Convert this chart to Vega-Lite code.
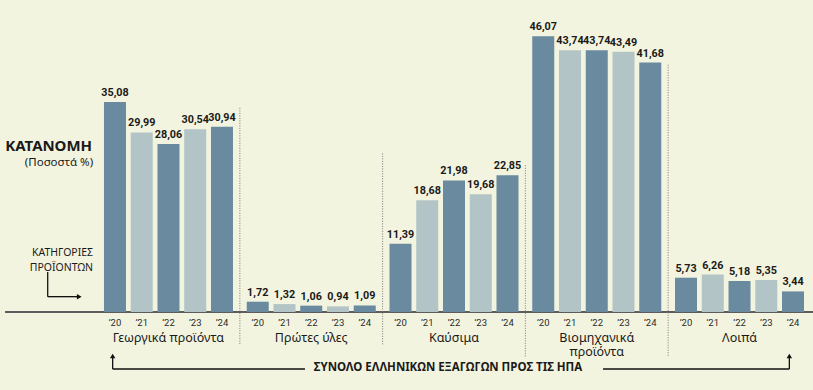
{
  "$schema": "https://vega.github.io/schema/vega-lite/v6.json",
  "width": 813,
  "height": 390,
  "autosize": "none",
  "padding": 0,
  "background": "#f3f4df",
  "config": {
    "view": {"stroke": null},
    "font": "Noto Sans",
    "locale": {"number": {"decimal": ",", "thousands": ".", "grouping": [3], "currency": ["", " €"]}}
  },
  "data": {
    "values": [
      {"cat": "Γεωργικά προϊόντα", "year": "’20", "value": 35.08},
      {"cat": "Γεωργικά προϊόντα", "year": "’21", "value": 29.99},
      {"cat": "Γεωργικά προϊόντα", "year": "’22", "value": 28.06},
      {"cat": "Γεωργικά προϊόντα", "year": "’23", "value": 30.54},
      {"cat": "Γεωργικά προϊόντα", "year": "’24", "value": 30.94},
      {"cat": "Πρώτες ύλες", "year": "’20", "value": 1.72},
      {"cat": "Πρώτες ύλες", "year": "’21", "value": 1.32},
      {"cat": "Πρώτες ύλες", "year": "’22", "value": 1.06},
      {"cat": "Πρώτες ύλες", "year": "’23", "value": 0.94},
      {"cat": "Πρώτες ύλες", "year": "’24", "value": 1.09},
      {"cat": "Καύσιμα", "year": "’20", "value": 11.39},
      {"cat": "Καύσιμα", "year": "’21", "value": 18.68},
      {"cat": "Καύσιμα", "year": "’22", "value": 21.98},
      {"cat": "Καύσιμα", "year": "’23", "value": 19.68},
      {"cat": "Καύσιμα", "year": "’24", "value": 22.85},
      {"cat": "Βιομηχανικά\nπροϊόντα", "year": "’20", "value": 46.07},
      {"cat": "Βιομηχανικά\nπροϊόντα", "year": "’21", "value": 43.74},
      {"cat": "Βιομηχανικά\nπροϊόντα", "year": "’22", "value": 43.74},
      {"cat": "Βιομηχανικά\nπροϊόντα", "year": "’23", "value": 43.49},
      {"cat": "Βιομηχανικά\nπροϊόντα", "year": "’24", "value": 41.68},
      {"cat": "Λοιπά", "year": "’20", "value": 5.73},
      {"cat": "Λοιπά", "year": "’21", "value": 6.26},
      {"cat": "Λοιπά", "year": "’22", "value": 5.18},
      {"cat": "Λοιπά", "year": "’23", "value": 5.35},
      {"cat": "Λοιπά", "year": "’24", "value": 3.44}
    ]
  },
  "layer": [
    {
      "mark": {"type": "rule", "color": "#5c5c5c", "strokeWidth": 2},
      "data": {"values": [{}]},
      "encoding": {
        "x": {"datum": "Γεωργικά προϊόντα", "type": "nominal", "bandPosition": -0.645,
          "scale": {"domain": ["Γεωργικά προϊόντα", "Πρώτες ύλες", "Καύσιμα", "Βιομηχανικά\nπροϊόντα", "Λοιπά"], "range": [97.1, 810.9], "paddingInner": 0, "paddingOuter": 0},
          "axis": null},
        "x2": {"datum": "Λοιπά", "bandPosition": 1.02},
        "y": {"datum": 0, "type": "quantitative", "scale": {"domain": [0, 50], "range": [312, 12.7], "nice": false, "zero": true}, "axis": null}
      }
    },
    {
      "mark": {"type": "bar"},
      "encoding": {
        "x": {"field": "cat", "type": "nominal", "sort": null},
        "xOffset": {"field": "year", "type": "nominal", "scale": {"paddingInner": 0.1776, "paddingOuter": 0.257}},
        "y": {"field": "value", "type": "quantitative"},
        "color": {"field": "year", "type": "nominal", "scale": {"domain": ["’20", "’21", "’22", "’23", "’24"], "range": ["#6a8aa0", "#b3c4c6", "#6a8aa0", "#b3c4c6", "#6a8aa0"]}, "legend": null}
      }
    },
    {
      "mark": {"type": "text", "baseline": "bottom", "dy": -4, "font": "Roboto", "fontSize": 10.8, "fontWeight": "bold", "color": "#1a1a1a"},
      "encoding": {
        "x": {"field": "cat", "type": "nominal"},
        "xOffset": {"field": "year", "type": "nominal"},
        "y": {"field": "value", "type": "quantitative"},
        "text": {"field": "value", "type": "quantitative", "format": ".2f"}
      }
    },
    {
      "mark": {"type": "text", "baseline": "middle", "font": "Roboto", "fontSize": 9.5, "color": "#2a2a2a"},
      "encoding": {
        "x": {"field": "cat", "type": "nominal"},
        "xOffset": {"field": "year", "type": "nominal"},
        "y": {"datum": -1.9},
        "text": {"field": "year", "type": "nominal"}
      }
    },
    {
      "transform": [{"filter": "datum.year === '’20'"}],
      "mark": {"type": "text", "baseline": "alphabetic", "lineBreak": "\n", "lineHeight": 14, "fontSize": 12.5, "color": "#1a1a1a"},
      "encoding": {
        "x": {"field": "cat", "type": "nominal"},
        "y": {"datum": -4.95},
        "text": {"field": "cat", "type": "nominal"}
      }
    },
    {
      "data": {"values": [{}]},
      "mark": {"type": "rule", "color": "#777777", "strokeWidth": 1, "strokeDash": [1, 1.5]},
      "encoding": {"x": {"datum": "Πρώτες ύλες", "type": "nominal", "bandPosition": 0}, "y": {"datum": 34.1}, "y2": {"datum": -5.4}}
    },
    {
      "data": {"values": [{}]},
      "mark": {"type": "rule", "color": "#777777", "strokeWidth": 1, "strokeDash": [1, 1.5]},
      "encoding": {"x": {"datum": "Καύσιμα", "type": "nominal", "bandPosition": 0}, "y": {"datum": 26.5}, "y2": {"datum": -5.4}}
    },
    {
      "data": {"values": [{}]},
      "mark": {"type": "rule", "color": "#777777", "strokeWidth": 1, "strokeDash": [1, 1.5]},
      "encoding": {"x": {"datum": "Βιομηχανικά\nπροϊόντα", "type": "nominal", "bandPosition": 0}, "y": {"datum": 24.5}, "y2": {"datum": -7.5}}
    },
    {
      "data": {"values": [{}]},
      "mark": {"type": "rule", "color": "#777777", "strokeWidth": 1, "strokeDash": [1, 1.5]},
      "encoding": {"x": {"datum": "Λοιπά", "type": "nominal", "bandPosition": 0}, "y": {"datum": 41.3}, "y2": {"datum": -7.5}}
    },
    {
      "data": {"values": [{}]},
      "mark": {"type": "text", "text": "ΚΑΤΑΝΟΜΗ", "align": "right", "baseline": "middle", "dx": -5, "fontSize": 15, "fontWeight": "bold", "color": "#1a1a1a"},
      "encoding": {"x": {"datum": "Γεωργικά προϊόντα", "type": "nominal", "bandPosition": 0}, "y": {"datum": 27.7}}
    },
    {
      "data": {"values": [{}]},
      "mark": {"type": "text", "text": "(Ποσοστά %)", "align": "right", "baseline": "middle", "dx": -4, "fontSize": 11.5, "color": "#1a1a1a"},
      "encoding": {"x": {"datum": "Γεωργικά προϊόντα", "type": "nominal", "bandPosition": 0}, "y": {"datum": 24.9}}
    },
    {
      "data": {"values": [{}]},
      "mark": {"type": "text", "text": ["ΚΑΤΗΓΟΡΙΕΣ", "ΠΡΟΪΟΝΤΩΝ"], "align": "right", "baseline": "middle", "lineHeight": 15, "dx": -4, "fontSize": 10.5, "color": "#1a1a1a"},
      "encoding": {"x": {"datum": "Γεωργικά προϊόντα", "type": "nominal", "bandPosition": 0}, "y": {"datum": 9.9}}
    },
    {
      "data": {"values": [{}]},
      "mark": {"type": "rule", "color": "#111111", "strokeWidth": 1.3},
      "encoding": {"x": {"datum": "Γεωργικά προϊόντα", "type": "nominal", "bandPosition": -0.346}, "y": {"datum": 6.68}, "y2": {"datum": 2.56}}
    },
    {
      "data": {"values": [{}]},
      "mark": {"type": "rule", "color": "#111111", "strokeWidth": 1.3},
      "encoding": {"x": {"datum": "Γεωργικά προϊόντα", "type": "nominal", "bandPosition": -0.346}, "x2": {"datum": "Γεωργικά προϊόντα", "bandPosition": -0.13}, "y": {"datum": 2.56}}
    },
    {
      "data": {"values": [{}]},
      "mark": {"type": "point", "shape": "triangle-right", "filled": true, "size": 30, "color": "#111111", "opacity": 1},
      "encoding": {"x": {"datum": "Γεωργικά προϊόντα", "type": "nominal", "bandPosition": -0.125}, "y": {"datum": 2.56}}
    },
    {
      "data": {"values": [{}]},
      "mark": {"type": "rule", "color": "#111111", "strokeWidth": 1.3},
      "encoding": {"x": {"datum": "Γεωργικά προϊόντα", "type": "nominal", "bandPosition": 0.109}, "y": {"datum": -9.52}, "y2": {"datum": -7.35}}
    },
    {
      "data": {"values": [{}]},
      "mark": {"type": "rule", "color": "#111111", "strokeWidth": 1.3},
      "encoding": {"x": {"datum": "Γεωργικά προϊόντα", "type": "nominal", "bandPosition": 0.109}, "x2": {"datum": "Πρώτες ύλες", "bandPosition": 0.456}, "y": {"datum": -9.52}}
    },
    {
      "data": {"values": [{}]},
      "mark": {"type": "point", "shape": "triangle-up", "filled": true, "size": 30, "color": "#111111", "opacity": 1},
      "encoding": {"x": {"datum": "Γεωργικά προϊόντα", "type": "nominal", "bandPosition": 0.109}, "y": {"datum": -7.35}}
    },
    {
      "data": {"values": [{}]},
      "mark": {"type": "rule", "color": "#111111", "strokeWidth": 1.3},
      "encoding": {"x": {"datum": "Λοιπά", "type": "nominal", "bandPosition": 0.849}, "y": {"datum": -9.52}, "y2": {"datum": -7.35}}
    },
    {
      "data": {"values": [{}]},
      "mark": {"type": "rule", "color": "#111111", "strokeWidth": 1.3},
      "encoding": {"x": {"datum": "Βιομηχανικά\nπροϊόντα", "type": "nominal", "bandPosition": 0.544}, "x2": {"datum": "Λοιπά", "bandPosition": 0.849}, "y": {"datum": -9.52}}
    },
    {
      "data": {"values": [{}]},
      "mark": {"type": "point", "shape": "triangle-up", "filled": true, "size": 30, "color": "#111111", "opacity": 1},
      "encoding": {"x": {"datum": "Λοιπά", "type": "nominal", "bandPosition": 0.849}, "y": {"datum": -7.35}}
    },
    {
      "data": {"values": [{}]},
      "mark": {"type": "text", "text": "ΣΥΝΟΛΟ ΕΛΛΗΝΙΚΩΝ ΕΞΑΓΩΓΩΝ ΠΡΟΣ ΤΙΣ ΗΠΑ", "align": "center", "baseline": "middle", "fontSize": 11.5, "fontWeight": "bold", "color": "#1a1a1a"},
      "encoding": {"x": {"datum": "Καύσιμα", "type": "nominal", "bandPosition": 0.458}, "y": {"datum": -9.35}}
    }
  ]
}
